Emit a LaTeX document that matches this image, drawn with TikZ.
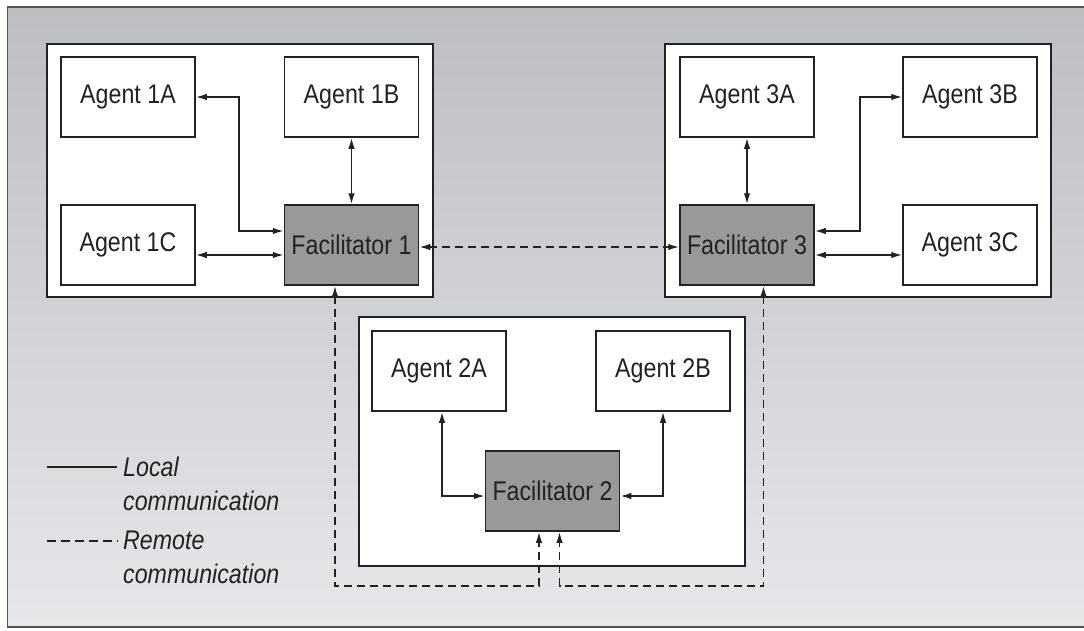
\documentclass[tikz,border=0pt]{standalone}
\usepackage{fontspec}
\setmainfont{Liberation Sans}[FakeStretch=0.86]
\usetikzlibrary{arrows.meta}
\definecolor{bgtop}{HTML}{BDBEC1}
\definecolor{bgbot}{HTML}{E6E7E9}
\definecolor{facfill}{HTML}{999999}
\definecolor{ink}{HTML}{222222}
\definecolor{framec}{HTML}{555555}
\begin{document}
\begin{tikzpicture}[x=1pt,y=-1pt,
  >={Latex[length=11pt,width=6.5pt]},
  every node/.style={font=\fontsize{27}{33}\selectfont, text=ink},
  agent/.style={draw=ink, line width=1.5pt, fill=white, minimum width=134pt, minimum height=80pt, inner sep=0pt},
  facil/.style={agent, fill=facfill},
  group/.style={draw=ink, line width=1.7pt, fill=white},
  link/.style={draw=ink, line width=1.6pt, <->},
  remote/.style={link, dash pattern=on 8pt off 5pt},
  legend/.style={font=\itshape\fontsize{27}{33.3}\selectfont, align=left, anchor=north west, inner sep=0pt}
]
\useasboundingbox (0,0) rectangle (1084,630);
\path[draw=framec, line width=1.8pt, top color=bgtop, bottom color=bgbot] (7.5,7) rectangle (1095,627);

% groups
\draw[group] (47,44) rectangle (433,297);
\draw[group] (665,44) rectangle (1051,297);
\draw[group] (359,317) rectangle (745,566);

% nodes
\node[agent] (a1a) at (128,97) {Agent 1A};
\node[agent] (a1b) at (351.5,97) {Agent 1B};
\node[agent] (a1c) at (128,245) {Agent 1C};
\node[facil] (f1) at (351.5,245) {Facilitator 1};

\node[agent] (a3a) at (747,97) {Agent 3A};
\node[agent] (a3b) at (970,97) {Agent 3B};
\node[facil] (f3) at (747,245) {Facilitator 3};
\node[agent] (a3c) at (970,245) {Agent 3C};

\node[agent] (a2a) at (439,371) {Agent 2A};
\node[agent] (a2b) at (663,371) {Agent 2B};
\node[facil] (f2) at (552.5,491) {Facilitator 2};

% local links
\draw[link] (a1a.east) -- ++(43,0) |- ([yshift=14pt]f1.west);
\draw[link] (a1b) -- (f1);
\draw[link] ([yshift=-10pt]a1c.east) -- ([yshift=-10pt]f1.west);

\draw[link] (a3a) -- (f3);
\draw[link] ([yshift=14pt]f3.east) -- ++(45,0) |- (a3b.west);
\draw[link] ([yshift=-10pt]f3.east) -- ([yshift=-10pt]a3c.west);

\draw[link] ([xshift=3pt]a2a.south) |- ([yshift=-5pt]f2.west);
\draw[link] (a2b.south) |- ([yshift=-5pt]f2.east);

% remote links
\coordinate (rb) at (552.5,586);
\draw[remote] ([yshift=-2pt]f1.east) -- ([yshift=-2pt]f3.west);
\draw[remote] ([xshift=-16.5pt]f1.south) -- ([xshift=-16.5pt]f1.south |- rb) -| ([xshift=-13.5pt]f2.south);
\draw[remote] ([xshift=16.5pt]f3.south) -- ([xshift=16.5pt]f3.south |- rb) -| ([xshift=7pt]f2.south);

% legend
\coordinate (l1a) at (46.5,467);
\coordinate (l1b) at (117,467);
\coordinate (l2a) at (46.5,541);
\coordinate (l2b) at (117,541);
\draw[draw=ink, line width=1.4pt] (l1a) -- (l1b);
\draw[draw=ink, line width=1.4pt, dash pattern=on 9pt off 5pt] (l2a) -- (l2b);
\node[legend] (loc) at (123,457) {Local\\communication};
\node[legend] (rem) at (123,531) {Remote\\communication};
\end{tikzpicture}
\end{document}
